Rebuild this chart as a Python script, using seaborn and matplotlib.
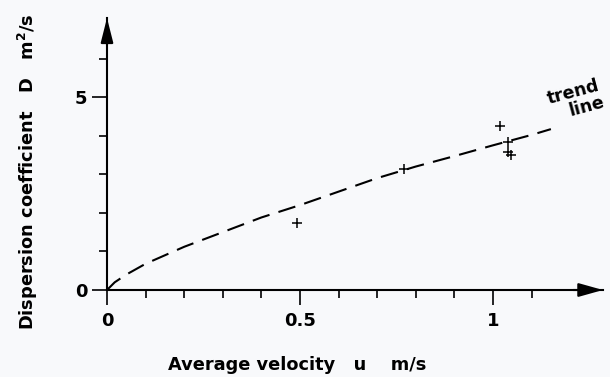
import matplotlib
matplotlib.use("Agg")
import matplotlib.pyplot as plt
from matplotlib.ticker import FixedLocator
import seaborn as sns
import pandas as pd

# ---- data ----
velocity_pts = [0.492, 0.769, 1.018, 1.039, 1.038, 1.046]
dispersion_pts = [1.74, 3.14, 4.25, 3.83, 3.58, 3.50]

trend_u = [0.0, 0.02, 0.05, 0.10, 0.20, 0.30, 0.40, 0.50, 0.60, 0.70, 0.80, 0.90, 1.00, 1.10, 1.15]
trend_D = [0.0, 0.20, 0.40, 0.68, 1.12, 1.50, 1.88, 2.20, 2.55, 2.90, 3.20, 3.47, 3.75, 4.02, 4.17]

x_major = [0, 0.5, 1]
x_major_labels = ["0", "0.5", "1"]
x_minor = [0.1, 0.2, 0.3, 0.4, 0.6, 0.7, 0.8, 0.9, 1.1]
y_major = [0, 5]
y_major_labels = ["0", "5"]
y_minor = [1, 2, 3, 4, 6]

x_label = "Average velocity   u    m/s"
y_label = "Dispersion coefficient   D   m$^2$/s"
trend_label = "trend\nline"

sns.set_style("ticks")
plt.rcParams["font.family"] = ["DejaVu Sans"]
plt.rcParams["mathtext.fontset"] = "custom"
plt.rcParams["mathtext.rm"] = "DejaVu Sans:bold"
plt.rcParams["text.color"] = "black"
plt.rcParams["axes.labelcolor"] = "black"

bg = "#f8f9fb"
fig = plt.figure(figsize=(6.10, 3.77), dpi=100, facecolor=bg)
ax = fig.add_axes([107 / 610, 87 / 377, (603 - 107) / 610, (290 - 18) / 377])
ax.set_facecolor(bg)

trend_df = pd.DataFrame({"u": trend_u, "D": trend_D})
pts_df = pd.DataFrame({"u": velocity_pts, "D": dispersion_pts})

sns.lineplot(data=trend_df, x="u", y="D", ax=ax, color="black", linewidth=1.5,
             dashes=False, sort=False)
ax.lines[-1].set_dashes([8.5, 4.5])
sns.scatterplot(data=pts_df, x="u", y="D", ax=ax, marker="+", s=60, color="black",
                linewidth=1.1)

ax.set_xlim(0, 1.285)
ax.set_ylim(0, 7.05)

for s in ["top", "right"]:
    ax.spines[s].set_visible(False)
for s in ["left", "bottom"]:
    ax.spines[s].set_linewidth(1.5)
    ax.spines[s].set_color("black")

ax.xaxis.set_major_locator(FixedLocator(x_major))
ax.set_xticklabels(x_major_labels)
ax.xaxis.set_minor_locator(FixedLocator(x_minor))
ax.yaxis.set_major_locator(FixedLocator(y_major))
ax.set_yticklabels(y_major_labels)
ax.yaxis.set_minor_locator(FixedLocator(y_minor))

ax.tick_params(which="major", length=11, width=1.2, direction="out", pad=3,
               labelsize=13, colors="black")
ax.tick_params(which="minor", length=6, width=1.2, direction="out", colors="black")
ax.tick_params(axis="x", which="major", pad=5)
for lab in ax.get_xticklabels() + ax.get_yticklabels():
    lab.set_fontweight("bold")

ax.set_xlabel(x_label, fontsize=12.8, fontweight="bold")
ax.set_ylabel(y_label, fontsize=12.8, fontweight="bold")
ax.xaxis.set_label_coords((297 - 107) / 496, (290 - 356) / 272)
ax.yaxis.set_label_coords((40 - 107) / 496, (290 - 172) / 272)

# arrow heads on the axes
ax.annotate("", xy=(1.0, 0), xycoords="axes fraction", xytext=(0.94, 0),
            arrowprops=dict(arrowstyle="-|>,head_length=1.5,head_width=0.42",
                            color="black", lw=1.5, shrinkA=0, shrinkB=0))
ax.annotate("", xy=(0, 1.0), xycoords="axes fraction", xytext=(0, 0.90),
            arrowprops=dict(arrowstyle="-|>,head_length=1.5,head_width=0.38",
                            color="black", lw=1.5, shrinkA=0, shrinkB=0))

ax.text(1.215, 4.92, trend_label, fontsize=12.5, fontweight="bold", rotation=15,
        ha="center", va="center", multialignment="right", linespacing=0.95,
        rotation_mode="anchor")

fig.savefig("out.png", dpi=100, facecolor=bg)
